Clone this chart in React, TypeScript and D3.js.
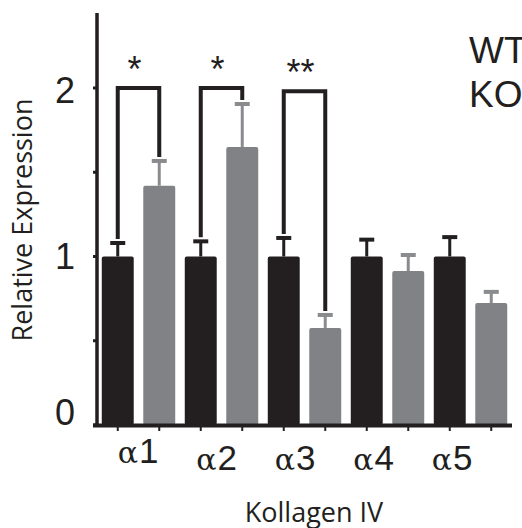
import React, { useEffect, useRef } from 'react'
import * as d3 from 'd3'

// Kollagen IV chains, WT vs KO relative expression
const categories = ['1', '2', '3', '4', '5']
const groups = ['WT', 'KO']
const wtMean = [1, 1, 1, 1, 1]
const wtErr = [0.08, 0.09, 0.11, 0.1, 0.115]
const koMean = [1.42, 1.65, 0.576, 0.914, 0.724]
const koErr = [0.147, 0.255, 0.077, 0.095, 0.066]
const yTicks = [0, 0.5, 1, 1.5, 2]
const yTickLabels = [0, 1, 2]
const sigCategory = [0, 1, 2]
const sigLabel = ['*', '*', '**']
const sigHeight = [2, 2, 1.98]

const BLACK = '#231f20'
const GRAY = '#808285'
const ERR_GRAY = '#8a8b8e'

const W = 522
const H = 528

const App = () => {
  const d3Ref = useRef(null)

  useEffect(() => {
    const svg = d3.select(d3Ref.current)
    svg.selectAll('*').remove()

    const x = d3.scaleBand().domain(categories).range([97, 512]).padding(0)
    const xInner = d3.scaleBand().domain(groups).range([0, x.bandwidth()])
      .paddingInner(0.23).paddingOuter(0.115)
    // the category labels sit a little left of the groups in the original
    const xLab = d3.scalePoint().domain(categories).range([138, 452])
    const y = d3.scaleLinear().domain([0, 2.445]).range([425, 13])

    const rows = categories.flatMap((c, i) => [
      { cat: c, g: 'WT', mean: wtMean[i], err: wtErr[i] },
      { cat: c, g: 'KO', mean: koMean[i], err: koErr[i] },
    ])
    const cx = (d) => x(d.cat) + xInner(d.g) + xInner.bandwidth() / 2

    // bars
    svg.append('g').selectAll('rect')
      .data(rows)
      .join('rect')
      .attr('x', d => x(d.cat) + xInner(d.g))
      .attr('y', d => y(d.mean))
      .attr('width', xInner.bandwidth())
      .attr('height', d => y(0) - y(d.mean))
      .attr('rx', 2)
      .attr('fill', d => d.g === 'WT' ? BLACK : GRAY)

    // error bars (upper only)
    const err = svg.append('g')
    err.selectAll('line.stem')
      .data(rows)
      .join('line')
      .attr('class', 'stem')
      .attr('x1', cx).attr('x2', cx)
      .attr('y1', d => y(d.mean))
      .attr('y2', d => y(d.mean + d.err))
      .attr('stroke', d => d.g === 'WT' ? BLACK : ERR_GRAY)
      .attr('stroke-width', 3)
    err.selectAll('line.cap')
      .data(rows)
      .join('line')
      .attr('class', 'cap')
      .attr('x1', d => cx(d) - 7.5).attr('x2', d => cx(d) + 7.5)
      .attr('y1', d => y(d.mean + d.err))
      .attr('y2', d => y(d.mean + d.err))
      .attr('stroke', d => d.g === 'WT' ? BLACK : ERR_GRAY)
      .attr('stroke-width', 4)

    // significance brackets
    const sig = svg.append('g')
    sigCategory.forEach((ci, k) => {
      const c = categories[ci]
      const xl = x(c) + xInner('WT') + xInner.bandwidth() / 2
      const xr = x(c) + xInner('KO') + xInner.bandwidth() / 2
      const yl = y(wtMean[ci] + wtErr[ci]) - 4
      const yr = y(koMean[ci] + koErr[ci]) - 4
      const yt = y(sigHeight[k])
      sig.append('path')
        .attr('d', `M${xl},${yl}V${yt}H${xr}V${yr}`)
        .attr('fill', 'none')
        .attr('stroke', BLACK)
        .attr('stroke-width', 4)
        .attr('stroke-linejoin', 'miter')
      sig.append('text')
        .attr('x', (xl + xr) / 2 - 4)
        .attr('y', yt - 6)
        .attr('text-anchor', 'middle')
        .attr('font-family', 'Liberation Sans, Arial, sans-serif')
        .attr('font-size', 36)
        .attr('fill', BLACK)
        .text(sigLabel[k])
    })

    // y axis
    const ax = svg.append('g')
    ax.append('line')
      .attr('x1', 97).attr('x2', 97)
      .attr('y1', y.range()[1]).attr('y2', y(0) + 2)
      .attr('stroke', BLACK).attr('stroke-width', 3.5)
    ax.selectAll('line.ytick')
      .data(yTicks)
      .join('line')
      .attr('class', 'ytick')
      .attr('x1', 93).attr('x2', 97)
      .attr('y1', d => y(d)).attr('y2', d => y(d))
      .attr('stroke', BLACK).attr('stroke-width', 3)
    const nudge = (v) => v === 0 ? 0 : v === 2 ? 15 : 13
    ax.selectAll('text.ylab')
      .data(yTickLabels)
      .join('text')
      .attr('class', 'ylab')
      .attr('x', 65)
      .attr('y', d => y(d) + nudge(d))
      .attr('text-anchor', 'middle')
      .attr('font-family', 'Liberation Sans, Arial, sans-serif')
      .attr('font-size', 36)
      .attr('fill', BLACK)
      .text(d => d)

    // x axis
    ax.append('line')
      .attr('x1', 93).attr('x2', 512)
      .attr('y1', y(0) + 0.5).attr('y2', y(0) + 0.5)
      .attr('stroke', BLACK).attr('stroke-width', 4)
    ax.selectAll('line.xtick')
      .data(rows)
      .join('line')
      .attr('class', 'xtick')
      .attr('x1', cx).attr('x2', cx)
      .attr('y1', y(0) + 2).attr('y2', y(0) + 6)
      .attr('stroke', BLACK).attr('stroke-width', 2)
    const xl = ax.selectAll('text.xlab')
      .data(categories)
      .join('text')
      .attr('class', 'xlab')
      .attr('x', d => xLab(d))
      .attr('y', (d, i) => i === 0 ? 463 : 470)
      .attr('text-anchor', 'middle')
      .attr('fill', BLACK)
    xl.append('tspan')
      .attr('font-family', 'DejaVu Serif, serif')
      .attr('font-size', 30)
      .text('\u03b1')
    xl.append('tspan')
      .attr('font-family', 'Liberation Sans, Arial, sans-serif')
      .attr('font-size', 35)
      .attr('dx', 1)
      .text(d => d)

    // titles
    svg.append('text')
      .attr('transform', 'translate(32, 220) rotate(-90)')
      .attr('text-anchor', 'middle')
      .attr('font-family', 'Open Sans, sans-serif')
      .attr('font-size', 27)
      .attr('fill', BLACK)
      .text('Relative Expression')
    svg.append('text')
      .attr('x', 314)
      .attr('y', 522)
      .attr('text-anchor', 'middle')
      .attr('font-family', 'Open Sans, sans-serif')
      .attr('font-size', 27)
      .attr('fill', BLACK)
      .text('Kollagen IV')

    // legend (cut at the right edge, as in the original)
    svg.selectAll('text.leg')
      .data(groups)
      .join('text')
      .attr('class', 'leg')
      .attr('x', 469)
      .attr('y', (d, i) => 63 + i * 44)
      .attr('font-family', 'Liberation Sans, Arial, sans-serif')
      .attr('font-size', 37)
      .attr('fill', BLACK)
      .text(d => d)
  }, [])

  return (
    <svg ref={d3Ref} width={W} height={H}
      style={{ position: 'absolute', left: 0, top: 0, background: '#fff' }} />
  )
}

export default App
